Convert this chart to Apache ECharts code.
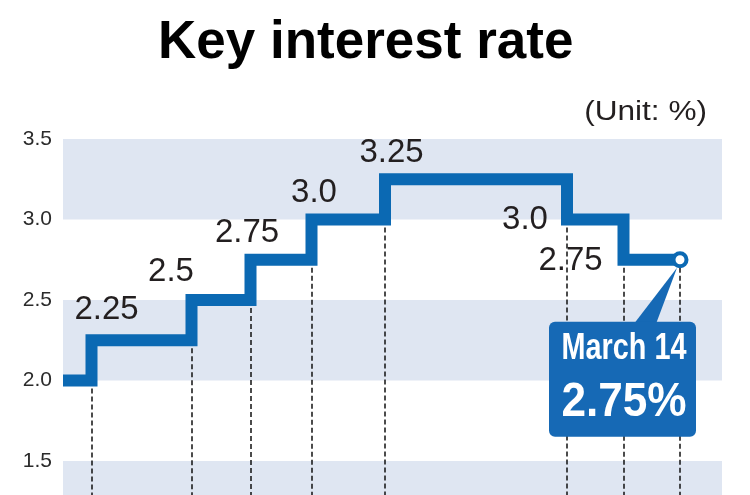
<!DOCTYPE html>
<html>
<head>
<meta charset="utf-8">
<script src="https://cdn.jsdelivr.net/npm/echarts@6/dist/echarts.min.js"></script>
<style>
html,body{margin:0;padding:0;background:#fff;}
#chart{width:750px;height:495px;}
</style>
</head>
<body>
<div id="chart"></div>
<script>
// ---- data ----
const chartTitle = 'Key interest rate';
const unitLabel = '(Unit: %)';
// horizontal position (timeline units) where each rate level begins; last = latest reading
const stepPositions = [0, 28.5, 128.5, 187.5, 248.5, 322, 504, 560.5, 617];
const rates = [2.0, 2.25, 2.5, 2.75, 3.0, 3.25, 3.0, 2.75, 2.75];
const yTicks = [1.0, 1.5, 2.0, 2.5, 3.0, 3.5];
const calloutDate = 'March 14';
const calloutValue = '2.75%';

// ---- styles ----
const BLUE = '#0b69b3';
const BOX = '#1669b5';
const BAND = '#dfe6f2';
const TXT = '#231f20';
const FONT = '"Liberation Sans", Arial, Helvetica, sans-serif';
const labelNudges = [null, [15, -30], [-20.5, -28], [-3.5, -26.5], [2.5, -26.5], [6.5, -26.5], [-42, 0], [-53, 1.5], null];

function fmtRate(v) {
  return Math.round(v * 10) === v * 10 ? v.toFixed(1) : v.toFixed(2);
}

const lastIdx = rates.length - 1;
const seriesData = stepPositions.map(function (x, i) {
  const item = { value: [x, rates[i]] };
  if (i === lastIdx) {
    item.symbolSize = 13;
    item.itemStyle = { color: '#fff', borderColor: BLUE, borderWidth: 4 };
    item.label = { show: false };
  } else if (labelNudges[i]) {
    item.label = { show: true, position: 'inside', offset: labelNudges[i] };
  } else {
    item.label = { show: false };
  }
  return item;
});

const dropLines = [];
for (let i = 1; i < stepPositions.length; i++) {
  const low = i === lastIdx ? rates[i] : Math.min(rates[i - 1], rates[i]);
  dropLines.push([{ coord: [stepPositions[i], low] }, { coord: [stepPositions[i], yTicks[0]] }]);
}

const chart = echarts.init(document.getElementById('chart'), null, { renderer: 'canvas' });
const option = {
  animation: false,
  backgroundColor: '#fff',
  title: [
    { text: chartTitle, left: 158, top: 17, padding: 0,
      textStyle: { fontFamily: FONT, fontSize: 53, fontWeight: 'bold', color: '#000' } }
  ],
  grid: { left: 63, right: 28, top: 139, height: 402.5, containLabel: false, outerBoundsMode: 'none' },
  xAxis: {
    type: 'value', min: 0, max: 659,
    axisLine: { show: false }, axisTick: { show: false }, axisLabel: { show: false }, splitLine: { show: false }
  },
  yAxis: {
    type: 'value', min: yTicks[0], max: yTicks[yTicks.length - 1], interval: 0.5,
    axisLine: { show: false }, axisTick: { show: false }, splitLine: { show: false },
    splitArea: { show: true, areaStyle: { color: [BAND, '#ffffff'] } },
    axisLabel: { margin: 11, fontFamily: FONT, fontSize: 21, color: '#2b2b2b',
      formatter: function (v) { return v.toFixed(1); } }
  },
  series: [{
    type: 'line',
    step: 'end',
    data: seriesData,
    symbol: 'circle',
    symbolSize: 0,
    showSymbol: true,
    clip: false,
    lineStyle: { color: BLUE, width: 12, join: 'miter', cap: 'butt' },
    itemStyle: { color: BLUE },
    label: {
      fontFamily: FONT, fontSize: 33, color: TXT,
      formatter: function (p) { return fmtRate(p.value[1]); }
    },
    markLine: {
      silent: true, symbol: ['none', 'none'], label: { show: false },
      lineStyle: { color: '#111', width: 1.5, type: [5, 3] },
      data: dropLines, z: 1
    },
    z: 3
  }]
};
chart.setOption(option);

const p = chart.convertToPixel({ seriesIndex: 0 }, [stepPositions[lastIdx], rates[lastIdx]]);
const cx = p[0], cy = p[1];
chart.setOption({
  graphic: [
    { type: 'text', z: 50, x: 707, y: 113, scaleX: 1.17,
      style: { text: unitLabel, x: 0, y: 0, fill: TXT, font: '27px ' + FONT,
        textAlign: 'right', textVerticalAlign: 'middle' } },
    { type: 'polygon', z: 100, shape: { points: [[cx - 46, cy + 64], [cx - 24, cy + 64], [cx - 3, cy + 8]] },
      style: { fill: BOX } },
    { type: 'rect', z: 100, shape: { x: cx - 131, y: cy + 62, width: 147, height: 115, r: 6 },
      style: { fill: BOX } },
    { type: 'text', z: 101, x: cx - 56, y: cy + 89, scaleX: 0.8,
      style: { text: calloutDate, x: 0, y: 0, fill: '#fff', font: 'bold 36px ' + FONT,
        textAlign: 'center', textVerticalAlign: 'middle' } },
    { type: 'text', z: 101, x: cx - 56, y: cy + 143, scaleX: 0.92,
      style: { text: calloutValue, x: 0, y: 0, fill: '#fff', font: 'bold 48px ' + FONT,
        textAlign: 'center', textVerticalAlign: 'middle' } }
  ]
});
</script>
</body>
</html>
